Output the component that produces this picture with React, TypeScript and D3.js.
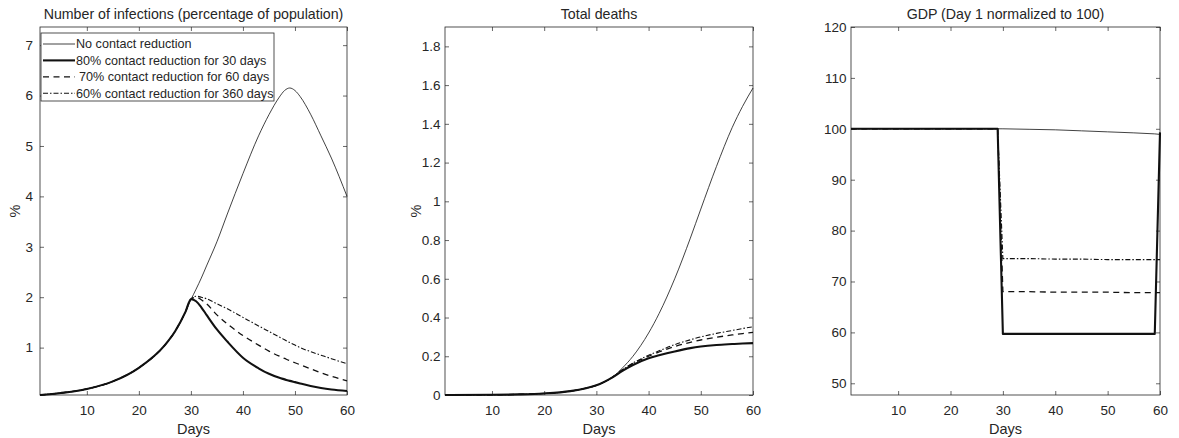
import React, { useEffect, useRef } from "react";
import * as d3 from "d3";

// infections, % of population
const infDays = [1, 5, 10, 15, 20, 25, 27, 29, 30, 31, 32, 33, 35, 37, 40, 43, 45, 47, 48, 49, 50, 51, 53, 55, 57, 60];
const infNone = [0.06, 0.1, 0.18, 0.33, 0.6, 1.05, 1.33, 1.72, 1.95, 2.16, 2.38, 2.62, 3.1, 3.65, 4.45, 5.2, 5.62, 5.97, 6.1, 6.15, 6.1, 5.98, 5.63, 5.2, 4.76, 4.0];
const inf80 = [0.06, 0.1, 0.18, 0.33, 0.6, 1.05, 1.33, 1.72, 1.96, 1.92, 1.8, 1.65, 1.36, 1.12, 0.8, 0.59, 0.48, 0.4, 0.37, 0.34, 0.315, 0.29, 0.24, 0.2, 0.17, 0.14];
const inf70 = [0.06, 0.1, 0.18, 0.33, 0.6, 1.05, 1.33, 1.72, 1.96, 2.0, 1.95, 1.87, 1.65, 1.47, 1.24, 1.05, 0.93, 0.83, 0.785, 0.74, 0.7, 0.66, 0.58, 0.5, 0.43, 0.34];
const inf60 = [0.06, 0.1, 0.18, 0.33, 0.6, 1.05, 1.33, 1.72, 1.96, 2.02, 2.0, 1.97, 1.87, 1.77, 1.6, 1.43, 1.32, 1.21, 1.155, 1.1, 1.05, 1.0, 0.92, 0.85, 0.78, 0.68];

// total deaths, %
const deathDays = [1, 10, 15, 20, 25, 28, 30, 33, 35, 37, 40, 42, 45, 48, 50, 53, 56, 58, 60];
const deathNone = [0, 0.001, 0.003, 0.008, 0.02, 0.035, 0.05, 0.09, 0.14, 0.2, 0.32, 0.42, 0.6, 0.81, 0.96, 1.18, 1.38, 1.49, 1.585];
const death80 = [0, 0.001, 0.003, 0.008, 0.02, 0.035, 0.05, 0.09, 0.125, 0.155, 0.19, 0.205, 0.225, 0.242, 0.25, 0.258, 0.263, 0.266, 0.268];
const death70 = [0, 0.001, 0.003, 0.008, 0.02, 0.035, 0.05, 0.09, 0.13, 0.163, 0.2, 0.222, 0.25, 0.272, 0.284, 0.298, 0.31, 0.317, 0.323];
const death60 = [0, 0.001, 0.003, 0.008, 0.02, 0.035, 0.05, 0.09, 0.13, 0.165, 0.205, 0.228, 0.26, 0.285, 0.3, 0.318, 0.333, 0.343, 0.352];

// GDP, day 1 = 100
const gdpDays = [1, 10, 20, 29, 30, 35, 40, 45, 50, 55, 59, 60];
const gdpNone = [100, 100, 100, 100, 100, 99.9, 99.8, 99.6, 99.4, 99.2, 99.0, 98.9];
const gdp80 = [100, 100, 100, 100, 59.7, 59.7, 59.7, 59.7, 59.7, 59.7, 59.7, 99.3];
const gdp70 = [100, 100, 100, 100, 68.0, 68.0, 67.9, 67.9, 67.9, 67.8, 67.8, 67.8];
const gdp60 = [100, 100, 100, 100, 74.5, 74.5, 74.4, 74.4, 74.3, 74.3, 74.3, 74.3];

const seriesNames = [
  "No contact reduction",
  "80% contact reduction for 30 days",
  "70% contact reduction for 60 days",
  "60% contact reduction for 360 days",
];
const xTicks = [10, 20, 30, 40, 50, 60];
const infTicks = [1, 2, 3, 4, 5, 6, 7];
const deathTicks = [0, 0.2, 0.4, 0.6, 0.8, 1, 1.2, 1.4, 1.6, 1.8];
const gdpTicks = [50, 60, 70, 80, 90, 100, 110, 120];

const FONT = "'Liberation Sans', Arial, Helvetica, sans-serif";
const INK = "#262626";

const lineStyles = [
  { width: 0.8, dash: null },
  { width: 2.1, dash: null },
  { width: 1.3, dash: "6,4.5" },
  { width: 1.1, dash: "5,2,1.5,2" },
];

const panels = [
  {
    title: "Number of infections (percentage of population)",
    days: infDays,
    series: [infNone, inf80, inf70, inf60],
    yDomain: [0.06, 7.36],
    yTicks: infTicks,
    left: 40, right: 347, top: 27, bottom: 395,
    pad: 7, ylabel: "%", ylabelX: 20, curve: d3.curveMonotoneX, legend: true,
  },
  {
    title: "Total deaths",
    days: deathDays,
    series: [deathNone, death80, death70, death60],
    yDomain: [0, 1.9],
    yTicks: deathTicks,
    left: 445, right: 753, top: 27, bottom: 395,
    pad: 4.5, ylabel: "%", ylabelX: 421, curve: d3.curveMonotoneX, legend: false,
  },
  {
    title: "GDP (Day 1 normalized to 100)",
    days: gdpDays,
    series: [gdpNone, gdp80, gdp70, gdp60],
    yDomain: [47.7, 120],
    yTicks: gdpTicks,
    left: 851, right: 1160, top: 27, bottom: 395,
    pad: 4.5, ylabel: null, ylabelX: 0, curve: d3.curveLinear, legend: false,
  },
];

const App = () => {
  const ref = useRef<SVGSVGElement>(null);
  const width = 1179;
  const height = 438;

  useEffect(() => {
    const svg = d3.select(ref.current);
    svg.selectAll("*").remove();

    panels.forEach((p) => {
      const x = d3.scaleLinear().domain([1, 60]).range([p.left, p.right]);
      const y = d3.scaleLinear().domain(p.yDomain).range([p.bottom, p.top]);
      const g = svg.append("g");

      // axes, ticks pointing inward on all four sides
      const styleAxis = (a) => {
        a.select(".domain").remove();
        a.selectAll("line").attr("stroke", INK).attr("stroke-width", 0.7);
        a.selectAll("text").attr("fill", INK).attr("font-size", 13.5).attr("font-family", FONT);
      };
      g.append("g")
        .attr("transform", `translate(0,${p.bottom})`)
        .call(d3.axisBottom(x).tickValues(xTicks).tickSizeInner(-4).tickSizeOuter(0).tickPadding(10))
        .call(styleAxis);
      g.append("g")
        .attr("transform", `translate(0,${p.top})`)
        .call(d3.axisTop(x).tickValues(xTicks).tickSizeInner(-4).tickSizeOuter(0).tickFormat(() => ""))
        .call(styleAxis);
      g.append("g")
        .attr("transform", `translate(${p.left},0)`)
        .call(d3.axisLeft(y).tickValues(p.yTicks).tickSizeInner(-4).tickSizeOuter(0).tickPadding(p.pad).tickFormat(d3.format("~g")))
        .call(styleAxis);
      g.append("g")
        .attr("transform", `translate(${p.right},0)`)
        .call(d3.axisRight(y).tickValues(p.yTicks).tickSizeInner(-4).tickSizeOuter(0).tickFormat(() => ""))
        .call(styleAxis);

      g.append("rect")
        .attr("x", p.left)
        .attr("y", p.top)
        .attr("width", p.right - p.left)
        .attr("height", p.bottom - p.top)
        .attr("fill", "none")
        .attr("stroke", INK)
        .attr("stroke-width", 0.8);

      const line = d3
        .line<number>()
        .x((d, i) => x(p.days[i]))
        .y((d) => y(d))
        .curve(p.curve);

      p.series.forEach((s, k) => {
        g.append("path")
          .datum(s)
          .attr("d", line)
          .attr("fill", "none")
          .attr("stroke", "#111")
          .attr("stroke-width", lineStyles[k].width)
          .attr("stroke-dasharray", lineStyles[k].dash)
          .attr("stroke-linejoin", "round");
      });

      g.append("text")
        .attr("x", (p.left + p.right) / 2)
        .attr("y", 19)
        .attr("text-anchor", "middle")
        .attr("font-family", FONT)
        .attr("font-size", 14.2)
        .attr("fill", INK)
        .text(p.title);
      g.append("text")
        .attr("x", (p.left + p.right) / 2)
        .attr("y", 434)
        .attr("text-anchor", "middle")
        .attr("font-family", FONT)
        .attr("font-size", 14.5)
        .attr("fill", INK)
        .text("Days");
      if (p.ylabel) {
        g.append("text")
          .attr("transform", `translate(${p.ylabelX},${(p.top + p.bottom) / 2}) rotate(-90)`)
          .attr("text-anchor", "middle")
          .attr("font-family", FONT)
          .attr("font-size", 14.5)
          .attr("fill", INK)
          .text(p.ylabel);
      }

      if (p.legend) {
        const lg = g.append("g");
        lg.append("rect")
          .attr("x", 41)
          .attr("y", 33)
          .attr("width", 233)
          .attr("height", 68)
          .attr("fill", "white")
          .attr("stroke", INK)
          .attr("stroke-width", 0.8);
        seriesNames.forEach((name, k) => {
          const ly = 44 + k * 16.4;
          lg.append("line")
            .attr("x1", 43)
            .attr("x2", 75)
            .attr("y1", ly)
            .attr("y2", ly)
            .attr("stroke", "#111")
            .attr("stroke-width", lineStyles[k].width)
            .attr("stroke-dasharray", lineStyles[k].dash);
          lg.append("text")
            .attr("x", k === 2 ? 79 : 76)
            .attr("y", ly)
            .attr("dy", "0.35em")
            .attr("font-family", FONT)
            .attr("font-size", 12.6)
            .attr("fill", INK)
            .text(name);
        });
      }
    });
  });

  return (
    <svg
      ref={ref}
      width={width}
      height={height}
      style={{ position: "absolute", left: 0, top: 0, background: "white" }}
    ></svg>
  );
};

export default App;
